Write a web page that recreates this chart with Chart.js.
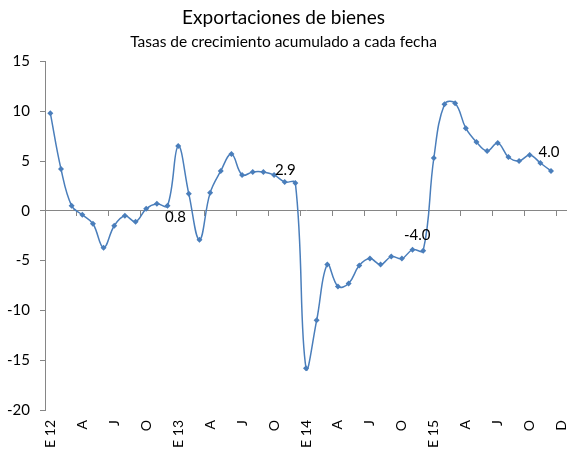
<!DOCTYPE html>
<html>
<head>
<meta charset="utf-8">
<script src="https://cdn.jsdelivr.net/npm/chart.js@4/dist/chart.umd.min.js"></script>
<style>
  html, body { margin: 0; padding: 0; background: #fff; }
  #wrap { width: 567px; height: 459px; }
</style>
</head>
<body>
<div id="wrap"><canvas id="exportChart"></canvas></div>
<script>
// months from E 12 (ene-2012); last slot has no value
const categories = [
  "E 12", "F", "M", "A", "M", "J", "J", "A", "S", "O", "N", "D",
  "E 13", "F", "M", "A", "M", "J", "J", "A", "S", "O", "N", "D",
  "E 14", "F", "M", "A", "M", "J", "J", "A", "S", "O", "N", "D",
  "E 15", "F", "M", "A", "M", "J", "J", "A", "S", "O", "N", "D",
  "E 16"
];

// labels shown every third month
const tickLabels = ["E 12", "A", "J", "O", "E 13", "A", "J", "O", "E 14", "A", "J", "O", "E 15", "A", "J", "O", "D"];

const exportGrowth = [
  9.8, 4.2, 0.5, -0.4, -1.3, -3.7, -1.5, -0.5, -1.1, 0.2, 0.7, 0.5,
  6.5, 1.7, -2.9, 1.8, 4.0, 5.7, 3.6, 3.9, 3.9, 3.6, 2.9, 2.8,
  -15.8, -11.0, -5.4, -7.6, -7.3, -5.5, -4.8, -5.4, -4.6, -4.8, -3.9, -4.0,
  5.3, 10.7, 10.8, 8.3, 6.9, 6.0, 6.8, 5.4, 5.0, 5.6, 4.8, 4.0,
  null
];

// annotated points: index, text
const pointNotes = [
  { index: 11, text: "0.8", dx: 8, dy: 11 },
  { index: 23, text: "2.9", dx: -10, dy: -13 },
  { index: 35, text: "-4.0", dx: -6, dy: -15 },
  { index: 47, text: "4.0", dx: -2, dy: -19 }
];

const yTicks = { min: -20, max: 15, step: 5 };

const lineBlue = "#4a7ebb";
const axisGray = "#868686";
const fontFamily = "Lato, 'Open Sans', sans-serif";

const notesPlugin = {
  id: "pointNotes",
  afterDatasetsDraw(chart) {
    const { ctx, scales } = chart;
    ctx.save();
    ctx.font = "15px " + fontFamily;
    ctx.fillStyle = "#000";
    ctx.textAlign = "center";
    ctx.textBaseline = "middle";
    pointNotes.forEach(n => {
      const x = scales.x.getPixelForValue(n.index);
      const y = scales.y.getPixelForValue(exportGrowth[n.index]);
      ctx.fillText(n.text, x + n.dx, y + n.dy);
    });
    ctx.restore();
  }
};

new Chart(document.getElementById("exportChart"), {
  type: "line",
  data: {
    labels: categories,
    datasets: [{
      data: exportGrowth,
      borderColor: lineBlue,
      backgroundColor: lineBlue,
      borderWidth: 1.5,
      tension: 0.4,
      pointStyle: "rectRot",
      pointRadius: 3,
      pointBorderWidth: 0,
      pointBackgroundColor: lineBlue,
      spanGaps: false
    }]
  },
  options: {
    responsive: true,
    maintainAspectRatio: false,
    animation: false,
    layout: { autoPadding: false, padding: 0 },
    plugins: {
      legend: { display: false },
      tooltip: { enabled: false },
      title: {
        display: true,
        text: "Exportaciones de bienes",
        color: "#000",
        font: { family: fontFamily, size: 19, weight: "normal" },
        padding: { top: 6, bottom: 0 }
      },
      subtitle: {
        display: true,
        text: "Tasas de crecimiento acumulado a cada fecha",
        color: "#000",
        font: { family: fontFamily, size: 15.5, weight: "normal" },
        padding: { top: 4, bottom: 10 }
      }
    },
    scales: {
      x: {
        type: "category",
        position: "bottom",
        offset: true,
        grid: { display: false, drawTicks: false },
        border: { display: false },
        afterFit(scale) { scale.height = 49; scale.paddingRight = 0; scale.paddingLeft = 0; },
        ticks: {
          autoSkip: false,
          minRotation: 90,
          maxRotation: 90,
          padding: 10,
          color: "#000",
          font: { family: fontFamily, size: 14 },
          callback: (v, i) => (i % 3 === 0 ? tickLabels[i / 3] : null)
        }
      },
      x2: {
        type: "category",
        position: { y: 0 },
        offset: true,
        ticks: { display: false, autoSkip: false },
        grid: {
          offset: true,
          drawOnChartArea: false,
          drawTicks: true,
          tickLength: 5,
          lineWidth: 1,
          color: ctx => (ctx.index % 3 === 0 ? axisGray : "rgba(0,0,0,0)")
        },
        border: { display: true, color: axisGray, width: 1 }
      },
      y: {
        min: yTicks.min,
        max: yTicks.max,
        afterFit(scale) { scale.width = 45; },
        ticks: {
          stepSize: yTicks.step,
          padding: 10,
          color: "#000",
          font: { family: fontFamily, size: 15 }
        },
        grid: {
          drawOnChartArea: false,
          drawTicks: true,
          tickLength: 5,
          color: axisGray
        },
        border: { display: true, color: axisGray, width: 1 }
      }
    }
  },
  plugins: [notesPlugin]
});
</script>
</body>
</html>
